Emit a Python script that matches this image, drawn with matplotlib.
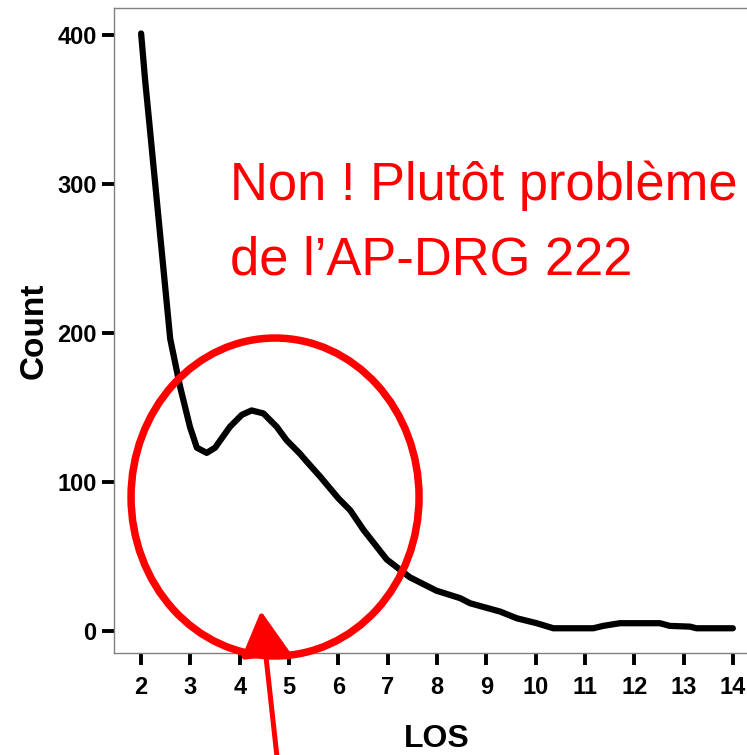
import matplotlib
matplotlib.use("Agg")
import matplotlib.pyplot as plt
from matplotlib.patches import Ellipse, FancyArrowPatch

# frequency polygon of LOS
los = [2.0, 2.08, 2.16, 2.59, 2.79, 2.99, 3.13, 3.33, 3.5, 3.8, 4.04, 4.24,
       4.48, 4.75, 4.95, 5.22, 5.36, 5.63, 6.0, 6.24, 6.51, 6.98, 7.45, 7.99,
       8.47, 8.67, 9.28, 9.62, 10.02, 10.36, 11.17, 11.37, 11.71, 12.52,
       12.72, 13.13, 13.26, 14.0]
count = [401, 370, 343, 196, 164, 137, 123, 119.5, 123, 137, 145, 148,
         146, 137, 128, 119, 113.6, 103.6, 89, 81, 67.8, 48, 36, 27,
         22, 18.6, 13, 8.5, 5.2, 1.8, 1.8, 3.4, 5.2, 5.2,
         3.4, 2.9, 1.8, 1.8]

x_ticks = list(range(2, 15))
y_ticks = [0, 100, 200, 300, 400]
note_lines = ["Non ! Plutôt problème", "de l\u2019AP-DRG 222"]

plt.rcParams['font.family'] = ['Liberation Sans', 'DejaVu Sans']

fig = plt.figure(figsize=(7.47, 7.55), dpi=100)
ax = fig.add_axes([114 / 747, 102 / 755, 646 / 747, 645 / 755])

ax.plot(los, count, color='black', lw=4.5, solid_capstyle='round',
        solid_joinstyle='round')

ax.set_xlim(1.45, 14.55)
ax.set_ylim(-14.8, 418.1)
ax.set_xticks(x_ticks)
ax.set_yticks(y_ticks)
ax.tick_params(direction='out', length=8.5, width=2.8, color='black',
               labelsize=17, pad=4)
ax.tick_params(axis='x', pad=8)
for lab in ax.get_xticklabels() + ax.get_yticklabels():
    lab.set_fontweight('bold')

for side in ['left', 'top', 'bottom', 'right']:
    ax.spines[side].set_color('#808080')
    ax.spines[side].set_linewidth(1.0)

ax.set_xlabel('LOS', fontsize=23, fontweight='bold', labelpad=18)
ax.set_ylabel('Count', fontsize=24, fontweight='bold', labelpad=5.5)

# annotation: circle, arrow and comment
ell = Ellipse((4.716, 89.9), 5.84, 213.4, fill=False, edgecolor='red',
              lw=5.4, clip_on=False, zorder=3)
ax.add_patch(ell)

arrow = FancyArrowPatch((4.85, -113), (4.43, 13.4),
                        arrowstyle='-|>,head_length=28,head_width=15.5',
                        mutation_scale=1, color='red', lw=3.6,
                        shrinkA=0, shrinkB=0, clip_on=False, zorder=4)
ax.add_patch(arrow)

ax.text(3.8, 289.5, note_lines[0], color='red', fontsize=37.8,
        va='baseline')
ax.text(3.8, 238.9, note_lines[1], color='red', fontsize=37.8,
        va='baseline')

fig.savefig('out.png', dpi=100)
